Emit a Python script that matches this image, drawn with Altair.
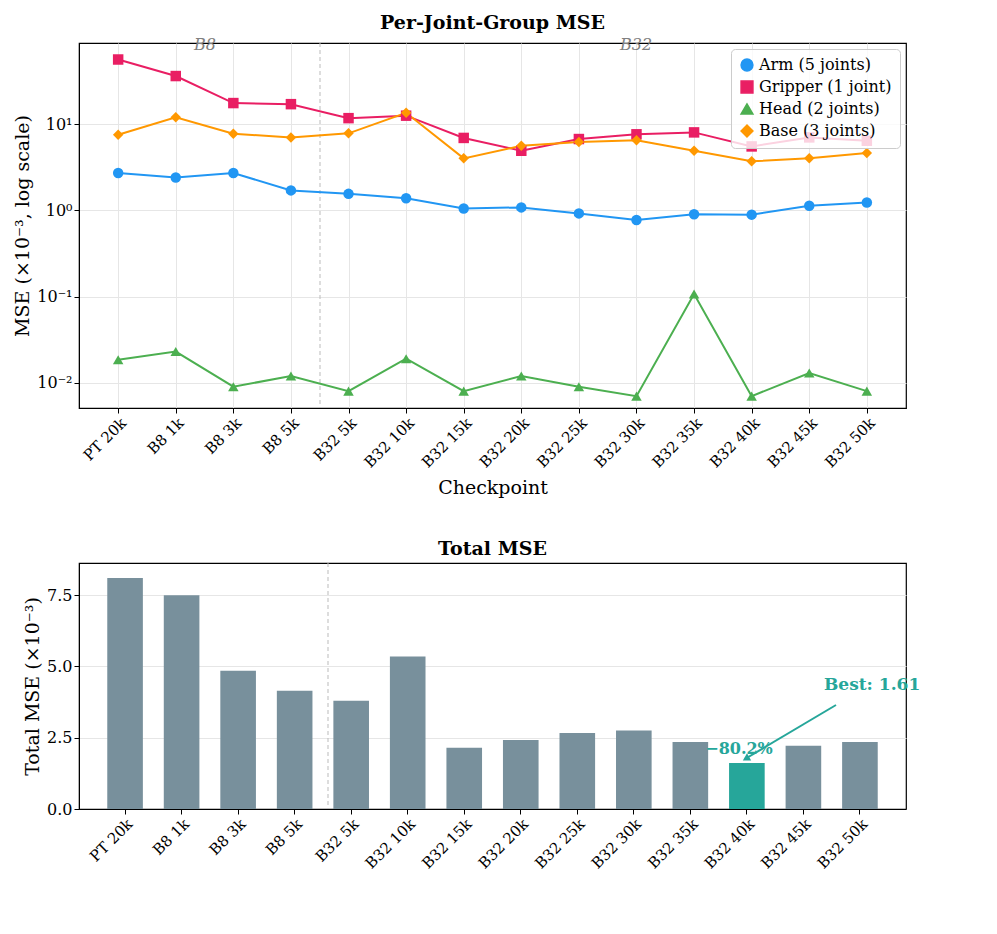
import altair as alt
import pandas as pd

checkpoints = ["PT 20k", "B8 1k", "B8 3k", "B8 5k", "B32 5k", "B32 10k", "B32 15k", "B32 20k",
               "B32 25k", "B32 30k", "B32 35k", "B32 40k", "B32 45k", "B32 50k"]
arm = [2.7, 2.4, 2.7, 1.7, 1.55, 1.38, 1.05, 1.08, 0.92, 0.77, 0.9, 0.89, 1.13, 1.23]
gripper = [56, 36, 17.5, 17, 11.7, 12.5, 6.9, 4.9, 6.7, 7.6, 8.0, 5.5, 7.0, 6.4]
head = [0.0185, 0.023, 0.009, 0.012, 0.008, 0.019, 0.008, 0.012, 0.009, 0.007, 0.107, 0.007, 0.013, 0.008]
base = [7.5, 12, 7.7, 7.0, 7.8, 13.5, 4.0, 5.6, 6.2, 6.5, 4.9, 3.7, 4.0, 4.6]
total = [8.1, 7.5, 4.85, 4.15, 3.8, 5.35, 2.15, 2.42, 2.67, 2.75, 2.35, 1.61, 2.22, 2.35]
series = ["Arm (5 joints)", "Gripper (1 joint)", "Head (2 joints)", "Base (3 joints)"]
colors = ["#2196F3", "#E91E63", "#4CAF50", "#FF9800"]
shapes = ["circle", "square", "triangle-up", "diamond"]
best_idx = 11

FONT = "DejaVu Serif"
W = 827

rows = []
for name, vals in zip(series, [arm, gripper, head, base]):
    for c, v in zip(checkpoints, vals):
        rows.append({"Checkpoint": c, "Series": name, "MSE": v})
df = pd.DataFrame(rows)

xs = alt.X("Checkpoint:N", sort=checkpoints, scale=alt.Scale(type="point", padding=0.68),
           axis=alt.Axis(title="Checkpoint", labelAngle=-45, labelAlign="right", labelFontSize=15,
                         titleFontSize=19, titleFontWeight="normal", grid=True, gridColor="#e6e6e6",
                         tickColor="black", domainColor="black", titlePadding=8))
leg = dict(title=None, orient="top-right", labelFontSize=16, symbolSize=140,
           fillColor="rgba(255,255,255,0.8)", strokeColor="#cccccc", offset=6,
           padding=8, cornerRadius=4, labelFont=FONT, rowPadding=4)
col = alt.Color("Series:N", sort=series, scale=alt.Scale(domain=series, range=colors), legend=alt.Legend(**leg))
shp = alt.Shape("Series:N", sort=series, scale=alt.Scale(domain=series, range=shapes), legend=alt.Legend(**leg))
ys = alt.Y("MSE:Q", scale=alt.Scale(type="log", domain=[0.0051, 87], nice=False),
           axis=alt.Axis(title="MSE (×10⁻³, log scale)", values=[0.01, 0.1, 1, 10],
                         labelExpr="datum.value==10?'10¹':datum.value==1?'10⁰':datum.value==0.1?'10⁻¹':'10⁻²'",
                         labelFontSize=16, titleFontSize=19, titleFontWeight="normal", gridColor="#e6e6e6",
                         tickColor="black", domainColor="black"))

lines = alt.Chart(df).mark_line(strokeWidth=2).encode(x=xs, y=ys, color=col, detail="Series:N")
pts = alt.Chart(df).mark_point(filled=True, size=110, opacity=1).encode(x=xs, y=ys, color=col, shape=shp)
vline = alt.Chart(pd.DataFrame({"x": [0]})).mark_rule(strokeDash=[4, 3], color="#bbbbbb").encode(
    x=alt.value(241), y=alt.value(0), y2=alt.value(365))
labs = alt.Chart(pd.DataFrame({"t": ["B8", "B32"], "px": [126, 557]})).mark_text(
    font=FONT, fontStyle="italic", fontSize=16, color="gray", baseline="top").encode(
    x=alt.X("px:Q", scale=None), y=alt.value(-6), text="t:N")
top = alt.layer(vline, lines, pts, labs).properties(
    width=W, height=365, title=alt.TitleParams("Per-Joint-Group MSE", fontSize=19, font=FONT, fontWeight="bold"))

dfb = pd.DataFrame({"Checkpoint": checkpoints, "Total": total,
                    "best": ["y" if i == best_idx else "n" for i in range(len(checkpoints))]})
xb = alt.X("Checkpoint:N", sort=checkpoints, scale=alt.Scale(paddingInner=0.37, paddingOuter=0.5),
           axis=alt.Axis(title=None, labelAngle=-45, labelAlign="right", labelFontSize=15, grid=False,
                         tickColor="black", domainColor="black"))
bars = alt.Chart(dfb).mark_bar().encode(
    x=xb,
    y=alt.Y("Total:Q", scale=alt.Scale(domain=[0, 8.63], nice=False),
            axis=alt.Axis(title="Total MSE (×10⁻³)", values=[0, 2.5, 5, 7.5], format=".1f",
                          labelFontSize=16, titleFontSize=19, titleFontWeight="normal",
                          gridColor="#e6e6e6", tickColor="black", domainColor="black")),
    fill=alt.Fill("best:N", scale=alt.Scale(domain=["n", "y"], range=["#78909C", "#26A69A"]), legend=None))
vline2 = alt.Chart(pd.DataFrame({"x": [0]})).mark_rule(strokeDash=[4, 3], color="#bbbbbb").encode(
    x=alt.value(249), y=alt.value(0), y2=alt.value(246))
arrow = alt.Chart(pd.DataFrame({"x": [0]})).mark_rule(color="#26A69A", strokeWidth=2).encode(
    x=alt.value(757), y=alt.value(142), x2=alt.value(666), y2=alt.value(196))
head_pt = alt.Chart(pd.DataFrame({"x": [0]})).mark_point(shape="triangle", filled=True, size=70,
                                                         color="#26A69A", opacity=1, angle=240).encode(
    x=alt.value(668), y=alt.value(195))
t1 = alt.Chart(pd.DataFrame({"t": ["Best: 1.61"]})).mark_text(
    font=FONT, fontWeight="bold", fontSize=17, color="#26A69A", align="left").encode(
    x=alt.value(745), y=alt.value(122), text="t:N")
t2 = alt.Chart(pd.DataFrame({"t": ["−80.2%"]})).mark_text(
    font=FONT, fontWeight="bold", fontSize=16, color="#26A69A").encode(
    x=alt.value(660), y=alt.value(186), text="t:N")
bottom = alt.layer(bars, vline2, arrow, head_pt, t1, t2).properties(
    width=W, height=246, title=alt.TitleParams("Total MSE", fontSize=19, font=FONT, fontWeight="bold"))

chart = alt.vconcat(top, bottom, spacing=40).resolve_scale(
    color="independent", shape="independent", fill="independent").configure(font=FONT).configure_view(
    stroke="black", strokeWidth=1.2).configure_axis(labelFont=FONT, titleFont=FONT, labelColor="black",
                                                 titleColor="black")
chart.save("out.html", embed_options={"renderer": "svg", "actions": False})
